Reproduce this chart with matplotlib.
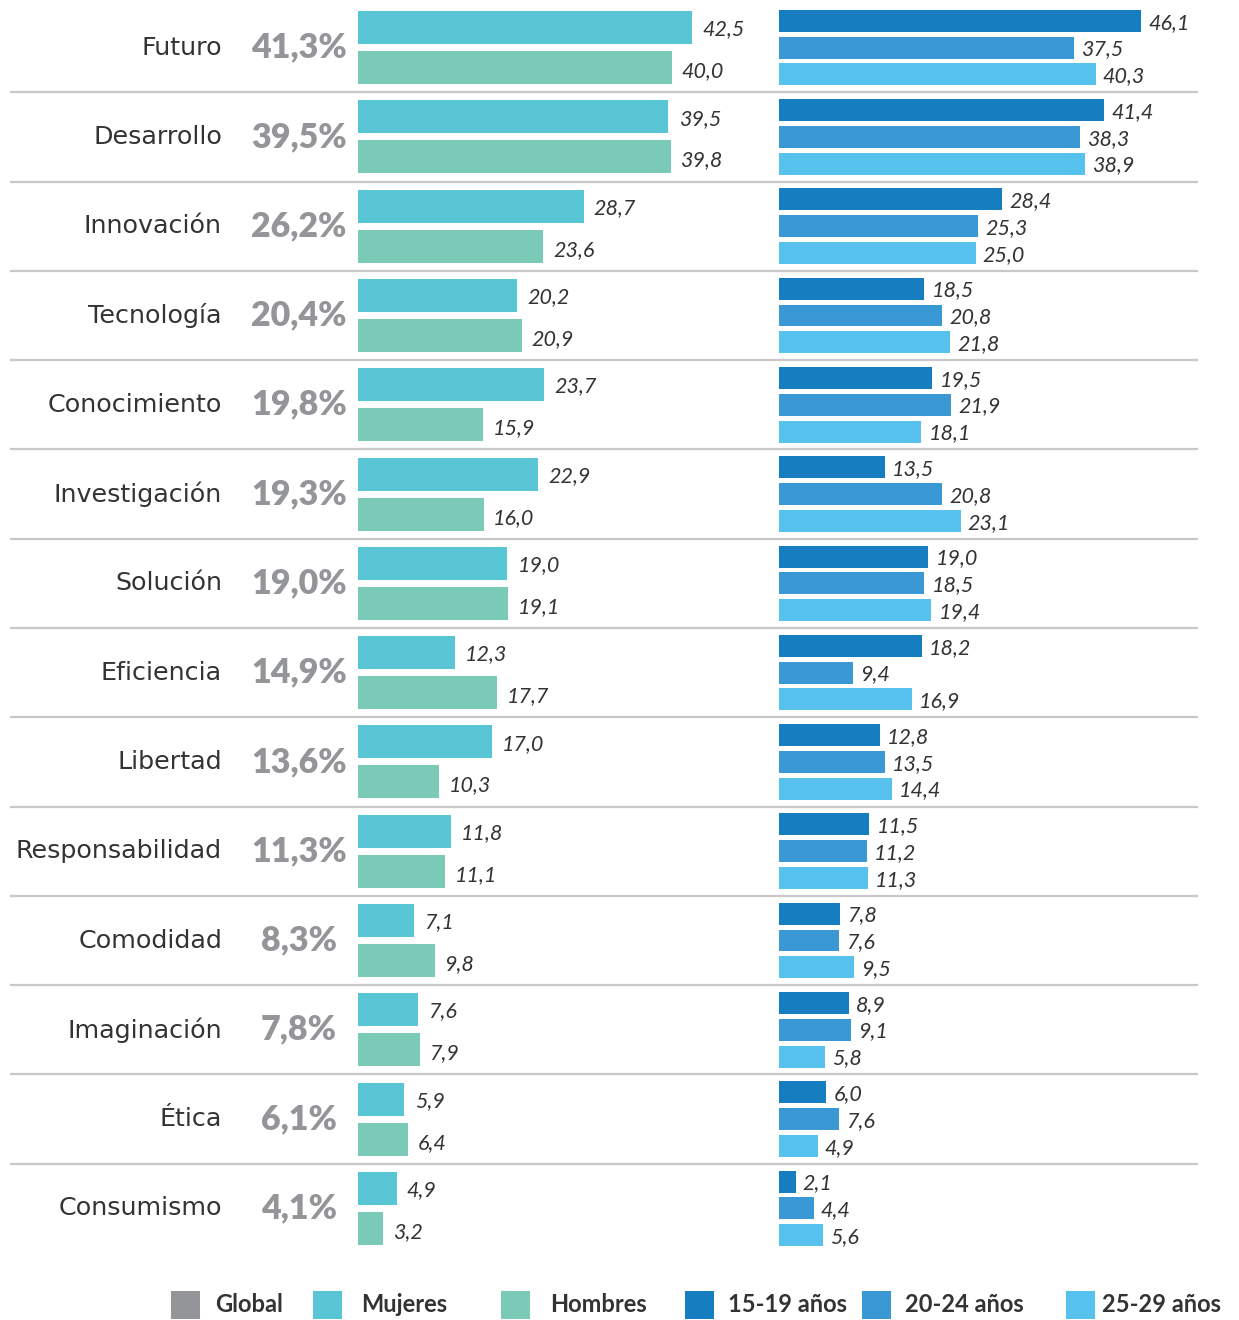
import matplotlib
matplotlib.use("Agg")
import matplotlib.pyplot as plt
from matplotlib.patches import Rectangle
import numpy as np

categories = ["Futuro", "Desarrollo", "Innovación", "Tecnología", "Conocimiento",
              "Investigación", "Solución", "Eficiencia", "Libertad", "Responsabilidad",
              "Comodidad", "Imaginación", "Ética", "Consumismo"]
global_pct = [41.3, 39.5, 26.2, 20.4, 19.8, 19.3, 19.0, 14.9, 13.6, 11.3, 8.3, 7.8, 6.1, 4.1]
mujeres = [42.5, 39.5, 28.7, 20.2, 23.7, 22.9, 19.0, 12.3, 17.0, 11.8, 7.1, 7.6, 5.9, 4.9]
hombres = [40.0, 39.8, 23.6, 20.9, 15.9, 16.0, 19.1, 17.7, 10.3, 11.1, 9.8, 7.9, 6.4, 3.2]
edad_15_19 = [46.1, 41.4, 28.4, 18.5, 19.5, 13.5, 19.0, 18.2, 12.8, 11.5, 7.8, 8.9, 6.0, 2.1]
edad_20_24 = [37.5, 38.3, 25.3, 20.8, 21.9, 20.8, 18.5, 9.4, 13.5, 11.2, 7.6, 9.1, 7.6, 4.4]
edad_25_29 = [40.3, 38.9, 25.0, 21.8, 18.1, 23.1, 19.4, 16.9, 14.4, 11.3, 9.5, 5.8, 4.9, 5.6]
legend_labels = ["Global", "Mujeres", "Hombres", "15-19 años", "20-24 años", "25-29 años"]

C_GLOBAL = "#939598"
C_MUJ = "#58C6D4"
C_HOM = "#7BCAB8"
C_A1 = "#167DC1"
C_A2 = "#3A99D5"
C_A3 = "#58C2EF"
C_TXT = "#333333"
C_SEP = "#C8C8C8"

FONT = "Lato"
CAT_FONT = "DejaVu Sans"

W, H = 1239, 1320
fig = plt.figure(figsize=(W / 100, H / 100), dpi=100)

n = len(categories)
y = np.arange(n)
top_px, bot_px = 3, 1253
ax_b = (H - bot_px) / H
ax_h = (bot_px - top_px) / H

def fmt(v):
    return f"{v:.1f}".replace(".", ",")

# background axes for labels and separators
bg = fig.add_axes([0, ax_b, 1, ax_h])
bg.set_xlim(0, 1)
bg.set_ylim(n - 0.5, -0.5)
bg.axis("off")
bg.hlines(np.arange(n - 1) + 0.5, 10 / W, 1198 / W, colors=C_SEP, linewidth=1.6)
for i, (c, g) in enumerate(zip(categories, global_pct)):
    bg.text(222 / W, i - 0.0, c, ha="right", va="center", fontsize=18.3,
            color=C_TXT, family=CAT_FONT)
    bg.text(299 / W, i + 0.0, fmt(g) + "%", ha="center", va="center", fontsize=24.5,
            color=C_GLOBAL, family=FONT, fontweight="heavy")

px_per_unit = 7.86
xmax = 50

# gender panel
ax1 = fig.add_axes([358 / W, ax_b, xmax * px_per_unit / W, ax_h])
ax1.set_xlim(0, xmax)
ax1.set_ylim(n - 0.5, -0.5)
ax1.axis("off")
off_g = 0.224
hg = 0.37
ax1.barh(y - off_g, mujeres, height=hg, color=C_MUJ)
ax1.barh(y + off_g, hombres, height=hg, color=C_HOM)
for i in range(n):
    ax1.text(mujeres[i] + 1.3, i - off_g + 0.02, fmt(mujeres[i]), ha="left", va="center",
             fontsize=15.5, style="italic", color=C_TXT, family=FONT, clip_on=False)
    ax1.text(hombres[i] + 1.2, i + off_g + 0.04, fmt(hombres[i]), ha="left", va="center",
             fontsize=15.5, style="italic", color=C_TXT, family=FONT, clip_on=False)

# age panel
ax2 = fig.add_axes([779 / W, ax_b, xmax * px_per_unit / W, ax_h])
ax2.set_xlim(0, xmax)
ax2.set_ylim(n - 0.5, -0.5)
ax2.axis("off")
off_a = 0.30
ha_ = 0.246
for vals, col, off in [(edad_15_19, C_A1, -off_a), (edad_20_24, C_A2, 0.0), (edad_25_29, C_A3, off_a)]:
    ax2.barh(y + off, vals, height=ha_, color=col)
    for i in range(n):
        ax2.text(vals[i] + 0.9, i + off + 0.02, fmt(vals[i]), ha="left", va="center",
                 fontsize=15.5, style="italic", color=C_TXT, family=FONT, clip_on=False)

# legend (manual)
leg_colors = [C_GLOBAL, C_MUJ, C_HOM, C_A1, C_A2, C_A3]
sq_x = [171, 313, 501, 685, 862, 1066]
tx_x = [215, 361, 550, 728, 905, 1102]
for lbl, col, sx, tx in zip(legend_labels, leg_colors, sq_x, tx_x):
    fig.patches.append(Rectangle((sx / W, (H - 1320) / H + 1 / H), 29 / W, 28 / H,
                                 transform=fig.transFigure, facecolor=col, edgecolor="none"))
    fig.text(tx / W, (H - 1305) / H, lbl, ha="left", va="center", fontsize=17,
             fontweight="bold", color=C_TXT, family=FONT)

fig.savefig("out.png", dpi=100, facecolor="white")
